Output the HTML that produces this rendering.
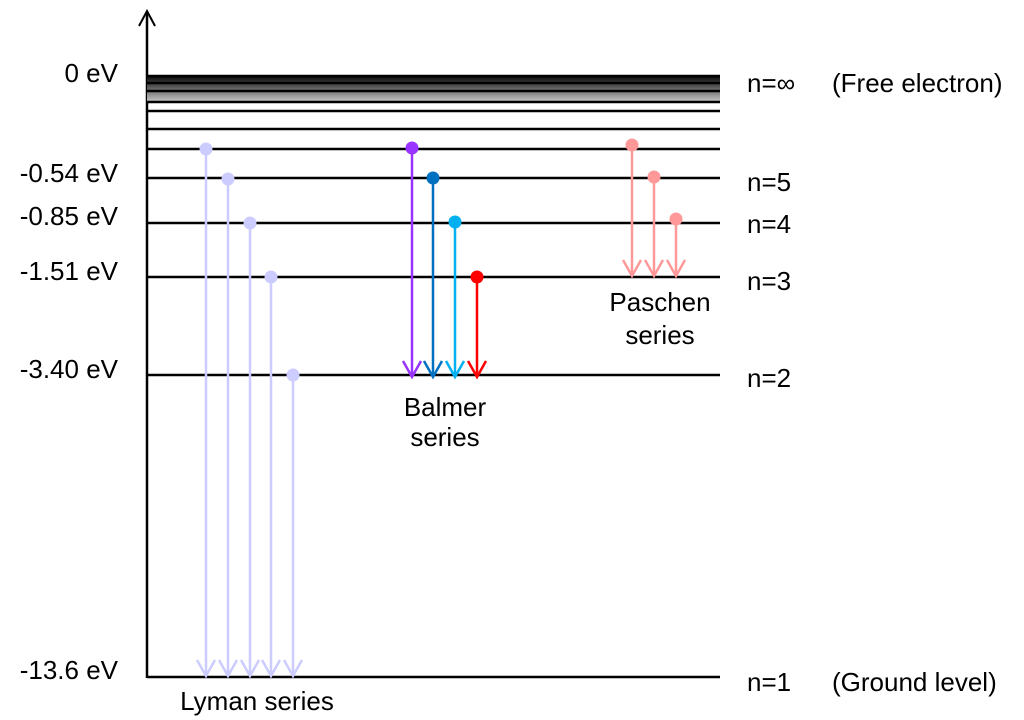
<!DOCTYPE html>
<html><head><meta charset="utf-8"><style>
html,body{margin:0;padding:0;background:#fff;}
svg{display:block;}
text{font-family:"Liberation Sans",Arial,sans-serif;font-size:26px;fill:#000;}
</style></head><body>
<svg width="1024" height="720" viewBox="0 0 1024 720">
<defs>
<linearGradient id="g" x1="0" y1="0" x2="0" y2="1">
<stop offset="0" stop-color="#000"/><stop offset="1" stop-color="#d0d0d0"/>
</linearGradient>
</defs>
<line x1="147" y1="12" x2="147" y2="678" stroke="#000" stroke-width="2.5"/>
<polyline points="139,26 147,11 155,26" fill="none" stroke="#000" stroke-width="2"/>
<rect x="147" y="75" width="573" height="28" fill="url(#g)"/>
<g stroke="#000" stroke-width="2.5">
<line x1="147" y1="76" x2="720" y2="76"/>
<line x1="147" y1="83" x2="720" y2="83"/>
<line x1="147" y1="91" x2="720" y2="91"/>
<line x1="147" y1="102" x2="720" y2="102"/>
<line x1="147" y1="111" x2="720" y2="111"/>
<line x1="147" y1="129" x2="720" y2="129"/>
<line x1="147" y1="149" x2="720" y2="149"/>
<line x1="147" y1="178" x2="720" y2="178"/>
<line x1="147" y1="223" x2="720" y2="223"/>
<line x1="147" y1="277" x2="720" y2="277"/>
<line x1="147" y1="375" x2="720" y2="375"/>
<line x1="147" y1="677" x2="720" y2="677"/>
</g>
<g stroke="#ccccff" stroke-width="2.5" fill="none">
<line x1="206" y1="149" x2="206" y2="676"/><polyline points="197,660 206,676 215,660"/>
<line x1="228" y1="179" x2="228" y2="676"/><polyline points="219,660 228,676 237,660"/>
<line x1="250" y1="223" x2="250" y2="676"/><polyline points="241,660 250,676 259,660"/>
<line x1="271" y1="277" x2="271" y2="676"/><polyline points="262,660 271,676 280,660"/>
<line x1="293" y1="375" x2="293" y2="676"/><polyline points="284,660 293,676 302,660"/>
</g>
<g fill="#ccccff">
<circle cx="206" cy="149" r="6.5"/><circle cx="228" cy="179" r="6.5"/><circle cx="250" cy="223" r="6.5"/><circle cx="271" cy="277" r="6.5"/><circle cx="293" cy="375" r="6.5"/>
</g>
<g stroke-width="2.5" fill="none">
<g stroke="#9933ff"><line x1="412" y1="148" x2="412" y2="377"/><polyline points="403,361 412,377 421,361"/></g>
<g stroke="#0070c0"><line x1="433" y1="178" x2="433" y2="377"/><polyline points="424,361 433,377 442,361"/></g>
<g stroke="#00b0f0"><line x1="455" y1="222" x2="455" y2="377"/><polyline points="446,361 455,377 464,361"/></g>
<g stroke="#ff0000"><line x1="477" y1="277" x2="477" y2="377"/><polyline points="468,361 477,377 486,361"/></g>
</g>
<circle cx="412" cy="148" r="6.5" fill="#9933ff"/>
<circle cx="433" cy="178" r="6.5" fill="#0070c0"/>
<circle cx="455" cy="222" r="6.5" fill="#00b0f0"/>
<circle cx="477" cy="277" r="6.5" fill="#ff0000"/>
<g stroke="#ff9999" stroke-width="2.5" fill="none">
<line x1="632" y1="145" x2="632" y2="276"/><polyline points="623,260 632,276 641,260"/>
<line x1="654" y1="177" x2="654" y2="276"/><polyline points="645,260 654,276 663,260"/>
<line x1="676" y1="219" x2="676" y2="276"/><polyline points="667,260 676,276 685,260"/>
</g>
<g fill="#ff9999"><circle cx="632" cy="145" r="6.5"/><circle cx="654" cy="177" r="6.5"/><circle cx="676" cy="219" r="6.5"/></g>
<g text-anchor="end">
<text x="118" y="82">0 eV</text>
<text x="118" y="182">-0.54 eV</text>
<text x="118" y="225">-0.85 eV</text>
<text x="118" y="280">-1.51 eV</text>
<text x="118" y="378">-3.40 eV</text>
<text x="118" y="679">-13.6 eV</text>
</g>
<text x="747" y="92">n=∞</text>
<text x="832" y="92">(Free electron)</text>
<text x="747" y="191">n=5</text>
<text x="747" y="233">n=4</text>
<text x="747" y="290">n=3</text>
<text x="747" y="387">n=2</text>
<text x="747" y="691">n=1</text>
<text x="832" y="691">(Ground level)</text>
<text x="445" y="416" text-anchor="middle">Balmer</text>
<text x="445" y="446" text-anchor="middle">series</text>
<text x="660" y="311" text-anchor="middle">Paschen</text>
<text x="660" y="344" text-anchor="middle">series</text>
<text x="257" y="710" text-anchor="middle">Lyman series</text>
</svg>
</body></html>
